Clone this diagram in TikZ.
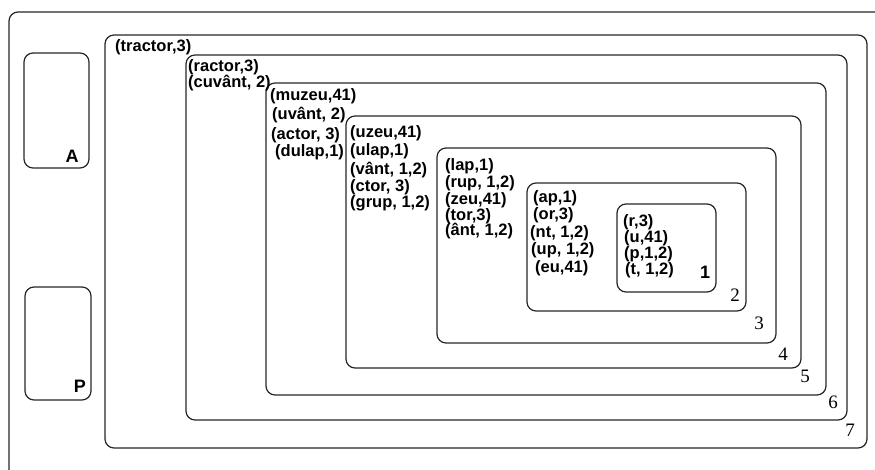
\documentclass[tikz,border=0pt]{standalone}
\usepackage{fontspec}
\setmainfont{Liberation Sans}
\newfontfamily\serifnum{Liberation Serif}
\begin{document}
\begin{tikzpicture}[x=1pt,y=-1pt,
  box/.style={draw=black!85, line width=1.2pt, rounded corners=9pt},
  lbl/.style={anchor=west, inner sep=0pt, font=\fontsize{16.5}{16}\selectfont\bfseries},
  num/.style={inner sep=0pt, font=\fontsize{19}{19}\selectfont\serifnum},
  big/.style={inner sep=0pt, font=\fontsize{18}{18}\selectfont\bfseries}]
\useasboundingbox (0,0) rectangle (875,470);
\begin{scope}
\clip (0,0) rectangle (875,470);
% outer box
\draw[box] (9,12) rectangle (895,490);
\node[num] (n0) at (880,461) {0};
\end{scope}
% left boxes
\draw[box] (24,53) rectangle (89,168);
\node[big] (la) at (72,156) {A};
\draw[box] (25,287) rectangle (91,400);
\node[big] (lp) at (80,386) {P};
% nested boxes
\draw[box] (105,35) rectangle (867,448);
\draw[box] (186,55) rectangle (847,420);
\draw[box] (266,83) rectangle (826,395);
\draw[box] (346,116) rectangle (801,368);
\draw[box] (437,148) rectangle (776,343);
\draw[box] (527,183) rectangle (746,311);
\draw[box] (617,204) rectangle (716,292);
% box labels
\node[big] (n1) at (705,272) {1};
\node[num] (n2) at (735,295) {2};
\node[num] (n3) at (759,323) {3};
\node[num] (n4) at (783,354) {4};
\node[num] (n5) at (805,376) {5};
\node[num] (n6) at (833,402) {6};
\node[num] (n7) at (850,430) {7};
% texts box 7
\node[lbl] (t7a) at (115,47) {(tractor,3)};
% box 6
\node[lbl] (t6a) at (188,67.5) {(ractor,3)};
\node[lbl] (t6b) at (188,83.5) {(cuvânt, 2)};
% box 5
\node[lbl] (t5a) at (270,96) {(muzeu,41)};
\node[lbl] (t5b) at (272,115) {(uvânt, 2)};
\node[lbl] (t5c) at (271,135) {(actor, 3)};
\node[lbl] (t5d) at (275,152) {(dulap,1)};
% box 4
\node[lbl] (t4a) at (350,133) {(uzeu,41)};
\node[lbl] (t4b) at (350,151) {(ulap,1)};
\node[lbl] (t4c) at (350,170) {(vânt, 1,2)};
\node[lbl] (t4d) at (350,187) {(ctor, 3)};
\node[lbl] (t4e) at (350,203) {(grup, 1,2)};
% box 3
\node[lbl] (t3a) at (445,166) {(lap,1)};
\node[lbl] (t3b) at (445,183) {(rup, 1,2)};
\node[lbl] (t3c) at (445,200) {(zeu,41)};
\node[lbl] (t3d) at (445,216) {(tor,3)};
\node[lbl] (t3e) at (445,231) {(ânt, 1,2)};
% box 2
\node[lbl] (t2a) at (533,198) {(ap,1)};
\node[lbl] (t2b) at (533,215) {(or,3)};
\node[lbl] (t2c) at (530,233) {(nt, 1,2)};
\node[lbl] (t2d) at (531,250) {(up, 1,2)};
\node[lbl] (t2e) at (535,268) {(eu,41)};
% box 1
\node[lbl] (t1a) at (623,222) {(r,3)};
\node[lbl] (t1b) at (624,238) {(u,41)};
\node[lbl] (t1c) at (624,254) {(p,1,2)};
\node[lbl] (t1d) at (625,270) {(t, 1,2)};
\end{tikzpicture}
\end{document}
